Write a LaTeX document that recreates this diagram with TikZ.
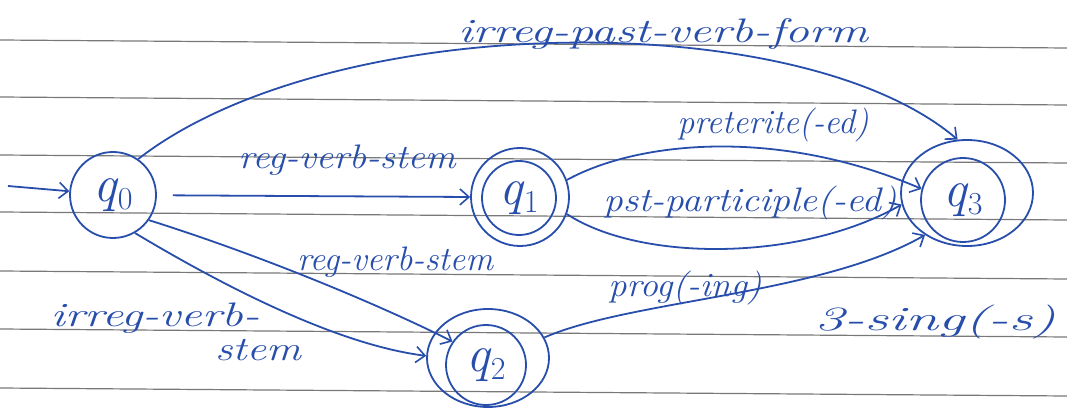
\documentclass[tikz,border=0pt]{standalone}
\usetikzlibrary{arrows.meta,shapes.geometric}
\definecolor{ink}{RGB}{40,78,172}
\definecolor{rule}{RGB}{120,120,120}
\newcommand{\hs}[2]{\scalebox{#1}[1]{#2}}
\newcommand{\qs}[1]{\itshape q\kern1pt\raisebox{-8pt}{\fontsize{32}{34}\selectfont\upshape #1}}
\begin{document}
\begin{tikzpicture}[x=1pt,y=-1pt,
  ink/.style={draw=ink,line width=1.8pt},
  edge/.style={ink,-{Straight Barb[length=9pt,width=16pt,line width=1.6pt]}},
  st/.style={ink,circle,inner sep=0pt,text=ink,font=\fontsize{52}{54}\selectfont},
  lab/.style={text=ink,font=\fontsize{34}{38}\selectfont\itshape,inner sep=0pt},
  ruleline/.style={draw=rule,line width=1.2pt}]
\useasboundingbox (0,0) rectangle (1067,419);
\fill[white] (0,0) rectangle (1067,419);
% ruled paper
\foreach \y in {40,97,155,212,271,329,388}
  \draw[ruleline] (0,\y) -- (1067,\y+8);
% states
\node[st,minimum size=86pt] (q0) at (113,195) {\qs{0}};
\node[st,minimum size=74pt] (q1) at (519,198) {\qs{1}};
\node[st,minimum size=98pt] (q1o) at (520,197) {};
\node[st,minimum size=84pt] (q3) at (963,200) {\qs{3}};
\node[ink,ellipse,minimum width=132pt,minimum height=106pt,inner sep=0pt] (q3o) at (967,193) {};
\node[st,minimum size=80pt] (q2) at (486,365) {\qs{2}};
\node[ink,ellipse,minimum width=122pt,minimum height=98pt,inner sep=0pt] (q2o) at (488,358) {};
% initial arrow
\coordinate (start) at (8,186);
\draw[edge] (start) -- (q0);
% q0 -> q1
\draw[edge,shorten <=16pt] (q0) -- (q1o.west);
% q0 -> q3 top
\draw[edge] (q0.55) .. controls (330,10) and (800,5) .. (q3o.100);
% q1 -> q3 preterite
\draw[edge] (q1o.20) .. controls (640,140) and (780,128) .. (q3.165);
% q1 -> q3 pst-participle
\draw[edge] (q1o.-20) .. controls (640,262) and (800,262) .. (q3o.190);
% q0 -> q2 reg-verb-stem
\draw[edge] (q0.-35) .. controls (260,255) and (380,305) .. (q2.145);
% q0 -> q2 irreg-verb-stem
\draw[edge] (q0.-60) .. controls (230,290) and (340,345) .. (q2o.178);
% q2 -> q3 prog
\draw[edge] (q2o.20) .. controls (630,300) and (820,295) .. (q3o.225);
% labels
\node[lab] (l1) at (663,34) {\hs{1.43}{irreg-past-verb-form}};
\node[lab] (l2) at (347,160) {\hs{1.13}{reg-verb-stem}};
\node[lab] (l3) at (773,125) {\hs{1.0}{preterite(-ed)}};
\node[lab] (l4) at (750,203) {\hs{1.14}{pst-participle(-ed)}};
\node[lab] (l5) at (395,262) {\hs{1.02}{reg-verb-stem}};
\node[lab] (l6) at (155,318) {\hs{1.4}{irreg-verb-}};
\node[lab] (l7) at (258,350) {\hs{1.28}{stem}};
\node[lab] (l8) at (685,288) {\hs{1.07}{prog(-ing)}};
\node[lab] (l9) at (935,322) {\hs{1.73}{3-sing(-s)}};
\end{tikzpicture}
\end{document}
